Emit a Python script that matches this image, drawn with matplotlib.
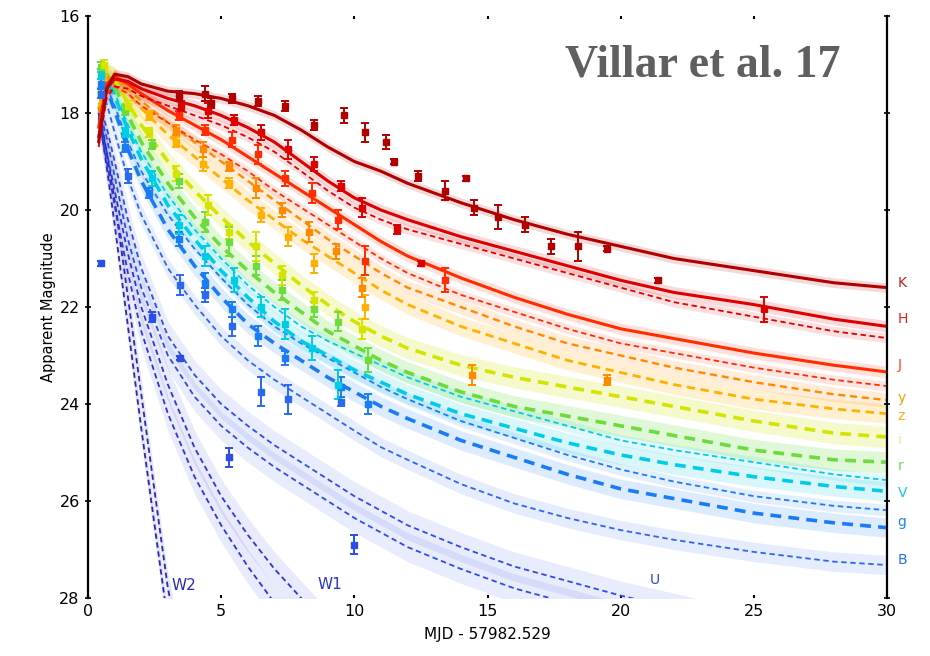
import numpy as np
import matplotlib
matplotlib.use("Agg")
import matplotlib.pyplot as plt

# model grid (days since merger) and model magnitudes
t_grid = [0.4, 0.7, 1.0, 1.5, 2, 3, 4, 5, 6, 7, 8, 9, 10, 11, 12, 14, 16, 18, 20, 22, 25, 28, 30]

mod_K = [18.6, 17.5, 17.2, 17.25, 17.4, 17.55, 17.6, 17.7, 17.85, 18.05, 18.35, 18.7, 19.0, 19.2, 19.45, 19.85, 20.2, 20.5, 20.75, 21.0, 21.25, 21.5, 21.6]
mod_H = [18.5, 17.5, 17.3, 17.35, 17.5, 17.7, 17.85, 18.05, 18.3, 18.6, 19.0, 19.4, 19.75, 20.0, 20.2, 20.55, 20.85, 21.15, 21.45, 21.7, 21.95, 22.25, 22.4]
mod_H2 = [18.7, 17.7, 17.45, 17.5, 17.65, 17.85, 18.05, 18.25, 18.5, 18.8, 19.2, 19.6, 19.95, 20.2, 20.4, 20.7, 21.0, 21.3, 21.6, 21.9, 22.2, 22.5, 22.64]
mod_J = [18.3, 17.4, 17.25, 17.4, 17.6, 17.95, 18.25, 18.55, 18.9, 19.25, 19.6, 19.95, 20.3, 20.65, 20.95, 21.4, 21.8, 22.15, 22.45, 22.65, 22.95, 23.2, 23.34]
mod_J2 = [18.5, 17.6, 17.45, 17.6, 17.85, 18.2, 18.55, 18.85, 19.2, 19.6, 19.95, 20.3, 20.65, 21.0, 21.3, 21.75, 22.1, 22.45, 22.75, 22.95, 23.25, 23.5, 23.63]
mod_y = [18.0, 17.3, 17.25, 17.5, 17.75, 18.2, 18.6, 19.0, 19.4, 19.8, 20.2, 20.6, 20.95, 21.3, 21.6, 22.0, 22.4, 22.75, 23.0, 23.25, 23.55, 23.8, 23.92]
mod_z = [17.9, 17.2, 17.25, 17.6, 17.9, 18.45, 18.9, 19.35, 19.8, 20.2, 20.6, 20.95, 21.3, 21.65, 21.95, 22.4, 22.75, 23.1, 23.35, 23.6, 23.9, 24.1, 24.2]
mod_i = [17.7, 17.15, 17.3, 17.8, 18.25, 19.0, 19.6, 20.15, 20.65, 21.1, 21.55, 21.95, 22.3, 22.6, 22.85, 23.2, 23.45, 23.65, 23.85, 24.05, 24.35, 24.6, 24.68]
mod_r = [17.6, 17.2, 17.45, 18.05, 18.6, 19.45, 20.15, 20.75, 21.25, 21.7, 22.1, 22.5, 22.8, 23.1, 23.35, 23.75, 24.05, 24.25, 24.45, 24.65, 24.95, 25.15, 25.2]
mod_V = [17.5, 17.3, 17.65, 18.35, 18.95, 19.9, 20.6, 21.25, 21.8, 22.3, 22.7, 23.0, 23.3, 23.55, 23.8, 24.2, 24.5, 24.8, 25.05, 25.25, 25.5, 25.7, 25.8]
mod_V2 = [17.45, 17.25, 17.6, 18.25, 18.8, 19.7, 20.4, 21.0, 21.55, 22.0, 22.4, 22.7, 22.95, 23.2, 23.45, 23.85, 24.15, 24.45, 24.75, 24.95, 25.2, 25.45, 25.57]
mod_g = [17.5, 17.5, 17.95, 18.75, 19.4, 20.4, 21.15, 21.8, 22.35, 22.75, 23.1, 23.45, 23.75, 24.05, 24.3, 24.75, 25.1, 25.45, 25.75, 25.95, 26.25, 26.45, 26.55]
mod_g2 = [17.5, 17.45, 17.85, 18.6, 19.2, 20.1, 20.8, 21.4, 21.95, 22.4, 22.75, 23.05, 23.35, 23.65, 23.9, 24.35, 24.7, 25.05, 25.35, 25.6, 25.9, 26.1, 26.19]
mod_B = [17.6, 17.8, 18.4, 19.35, 20.1, 21.2, 21.95, 22.6, 23.1, 23.5, 23.85, 24.2, 24.55, 24.89, 25.15, 25.65, 26.05, 26.35, 26.6, 26.8, 27.05, 27.25, 27.32]
mod_U = [17.8, 18.3, 19.0, 20.2, 21.2, 22.6, 23.4, 24.0, 24.45, 24.85, 25.2, 25.55, 25.9, 26.2, 26.5, 26.95, 27.35, 27.65, 27.95, 28.2, 28.6, 28.9, 29.1]
mod_U2 = [17.9, 18.5, 19.3, 20.6, 21.6, 23.0, 23.85, 24.45, 24.9, 25.3, 25.65, 26.0, 26.35, 26.65, 26.95, 27.4, 27.8, 28.1, 28.4, 28.6, 29.0, 29.3, 29.5]
mod_W1 = [18.0, 18.8, 19.6, 20.9, 22.0, 23.6, 24.9, 25.9, 26.7, 27.4, 28.0, 28.6]
mod_W1b = [18.1, 19.0, 19.9, 21.3, 22.5, 24.2, 25.5, 26.5, 27.35, 28.1, 28.7]
mod_W2 = [17.9, 18.8, 19.8, 21.8, 23.8, 27.8, 30.5]
mod_W2b = [18.0, 19.1, 20.3, 22.4, 24.5, 28.5]

# observed photometry (day, mag, err)
obs_K_t = [3.4, 4.4, 4.6, 5.4, 6.4, 7.4, 8.5, 9.6, 10.4, 11.2, 11.5, 12.4, 13.4, 14.2, 14.5, 15.4, 16.4, 17.4, 18.4, 19.5, 21.4]
obs_K_m = [17.65, 17.6, 17.8, 17.7, 17.75, 17.85, 18.25, 18.05, 18.4, 18.6, 19.0, 19.3, 19.6, 19.35, 19.95, 20.15, 20.3, 20.75, 20.75, 20.8, 21.45]
obs_K_e = [0.1, 0.15, 0.1, 0.1, 0.1, 0.1, 0.1, 0.15, 0.2, 0.15, 0.05, 0.1, 0.2, 0.05, 0.15, 0.25, 0.15, 0.15, 0.3, 0.05, 0.05]
obs_H_t = [3.5, 4.5, 5.5, 6.5, 7.5, 8.5, 9.5, 10.3, 11.6, 12.5, 25.4]
obs_H_m = [17.85, 17.95, 18.15, 18.4, 18.75, 19.05, 19.5, 19.95, 20.4, 21.1, 22.05]
obs_H_e = [0.1, 0.15, 0.1, 0.15, 0.2, 0.15, 0.1, 0.2, 0.1, 0.05, 0.25]
obs_J_t = [3.4, 4.4, 5.4, 6.4, 7.4, 8.4, 9.4, 10.4, 13.4]
obs_J_m = [18.05, 18.35, 18.55, 18.85, 19.35, 19.65, 20.2, 21.05, 21.45]
obs_J_e = [0.1, 0.1, 0.15, 0.2, 0.15, 0.2, 0.2, 0.3, 0.25]
obs_y_t = [3.3, 4.3, 5.3, 6.3, 7.3, 8.3, 9.3, 10.3, 14.4, 19.5]
obs_y_m = [18.35, 18.75, 19.1, 19.55, 20.0, 20.45, 20.85, 21.6, 23.4, 23.5]
obs_y_e = [0.1, 0.15, 0.1, 0.2, 0.15, 0.2, 0.15, 0.2, 0.2, 0.1]
obs_z_t = [2.3, 3.3, 4.3, 5.3, 6.5, 7.5, 8.5, 10.4]
obs_z_m = [18.05, 18.6, 19.05, 19.45, 20.1, 20.55, 21.1, 22.0]
obs_z_e = [0.1, 0.1, 0.15, 0.1, 0.15, 0.2, 0.2, 0.25]
obs_i_t = [0.6, 1.5, 2.3, 3.3, 4.5, 5.3, 6.3, 7.3, 8.5, 10.3]
obs_i_m = [17.0, 17.85, 18.4, 19.25, 19.9, 20.45, 20.75, 21.35, 21.85, 22.45]
obs_i_e = [0.1, 0.1, 0.1, 0.15, 0.2, 0.15, 0.3, 0.2, 0.15, 0.2]
obs_r_t = [0.5, 1.4, 2.4, 3.4, 4.4, 5.3, 6.3, 7.3, 8.5, 9.4, 10.5]
obs_r_m = [17.05, 17.95, 18.65, 19.4, 20.25, 20.65, 21.15, 21.65, 22.05, 22.3, 23.1]
obs_r_e = [0.1, 0.1, 0.1, 0.15, 0.2, 0.3, 0.2, 0.2, 0.15, 0.2, 0.25]
obs_V_t = [0.5, 1.4, 2.4, 3.4, 4.4, 5.5, 6.5, 7.4, 8.4, 9.4]
obs_V_m = [17.2, 18.4, 19.35, 20.3, 20.95, 21.45, 22.0, 22.35, 22.85, 23.6]
obs_V_e = [0.1, 0.1, 0.15, 0.2, 0.2, 0.25, 0.2, 0.3, 0.25, 0.3]
obs_g_t = [0.5, 1.4, 2.3, 3.4, 4.4, 5.4, 6.4, 7.4, 9.5, 10.5]
obs_g_m = [17.4, 18.7, 19.65, 20.6, 21.5, 22.05, 22.6, 23.05, 23.65, 24.0]
obs_g_e = [0.1, 0.1, 0.1, 0.15, 0.2, 0.15, 0.2, 0.15, 0.2, 0.2]
obs_B_t = [0.5, 1.5, 3.45, 4.4, 5.4, 6.5, 7.5, 9.5]
obs_B_m = [17.6, 19.3, 21.55, 21.75, 22.4, 23.75, 23.9, 23.95]
obs_B_e = [0.1, 0.15, 0.2, 0.15, 0.2, 0.3, 0.3, 0.1]
obs_U_t = [0.5, 2.4, 3.45, 5.3, 10.0]
obs_U_m = [21.1, 22.2, 23.05, 25.1, 26.9]
obs_U_e = [0.05, 0.1, 0.05, 0.2, 0.2]

band_names = ["K", "H", "J", "y", "z", "i", "r", "V", "g", "B", "U", "W1", "W2"]
band_colors = ["#b00000", "#dc0000", "#ff2c00", "#ff8a00", "#ffb000", "#d4e400",
               "#6cdc3c", "#00cce6", "#1a7cf4", "#2a68f0", "#2a4ee6", "#2a36d8", "#2a28b8"]
label_colors = ["#c02020", "#e02020", "#ff4020", "#f0a000", "#f8b020", "#e4f0a0",
                "#70d860", "#10c8e8", "#2080f0", "#2a70f0", "#2a40e0", "#2a34d0", "#2a2ab8"]
label_mags = [21.5, 22.25, 23.2, 23.88, 24.25, 24.74, 25.28, 25.84, 26.43, 27.22]

fig = plt.figure(figsize=(9.3, 6.56), dpi=100)
ax = fig.add_axes([88 / 930, 1 - 598 / 656, 799 / 930, 582 / 656])

t = np.array(t_grid)

def model(arr, color, ls="--", lw=1.3, spread=0.15, alpha=0.15):
    m = np.array(arr)
    tt = t[:len(m)]
    ax.fill_between(tt, m - spread, m + spread, color=color, alpha=alpha, lw=0)
    if ls == "-":
        ax.plot(tt, m, color=color, lw=lw, solid_capstyle="round", solid_joinstyle="round")
    else:
        ax.plot(tt, m, color=color, lw=lw, ls=(0, (3, 2)))

c = dict(zip(band_names, band_colors))

model(mod_W2b, c["W2"], spread=0.3, alpha=0.12)
model(mod_W2, c["W2"], spread=0.3, alpha=0.12)
model(mod_W1b, c["W1"], spread=0.35, alpha=0.1)
model(mod_W1, c["W1"], spread=0.35, alpha=0.1)
model(mod_U2, c["U"], spread=0.3, alpha=0.1)
model(mod_U, c["U"], spread=0.3, alpha=0.1)
model(mod_B, c["B"], spread=0.2, alpha=0.12)
model(mod_g2, c["g"], spread=0.12, alpha=0.12)
model(mod_g, c["g"], lw=2.6, spread=0.2, alpha=0.15)
model(mod_V2, c["V"], spread=0.12, alpha=0.12)
model(mod_V, c["V"], lw=2.6, spread=0.2, alpha=0.15)
model(mod_r, c["r"], lw=2.6, spread=0.22, alpha=0.2)
model(mod_i, c["i"], lw=2.6, spread=0.22, alpha=0.2)
model(mod_z, c["z"], lw=2.0, spread=0.2, alpha=0.18)
model(mod_y, c["y"], lw=1.7, spread=0.15, alpha=0.15)
model(mod_J2, c["J"], spread=0.1, alpha=0.12)
model(mod_J, c["J"], ls="-", lw=2.2, spread=0.12, alpha=0.15)
model(mod_H2, c["H"], spread=0.1, alpha=0.12)
model(mod_H, c["H"], ls="-", lw=2.2, spread=0.12, alpha=0.15)
model(mod_K, c["K"], ls="-", lw=2.2, spread=0.1, alpha=0.15)

observations = [
    ("U", obs_U_t, obs_U_m, obs_U_e), ("B", obs_B_t, obs_B_m, obs_B_e),
    ("g", obs_g_t, obs_g_m, obs_g_e), ("V", obs_V_t, obs_V_m, obs_V_e),
    ("r", obs_r_t, obs_r_m, obs_r_e), ("i", obs_i_t, obs_i_m, obs_i_e),
    ("z", obs_z_t, obs_z_m, obs_z_e), ("y", obs_y_t, obs_y_m, obs_y_e),
    ("J", obs_J_t, obs_J_m, obs_J_e), ("H", obs_H_t, obs_H_m, obs_H_e),
    ("K", obs_K_t, obs_K_m, obs_K_e),
]
for b, ot, om, oe in observations:
    ax.errorbar(ot, om, yerr=oe, fmt="s", color=c[b], ms=4.5, mec=c[b],
                elinewidth=1.4, capsize=3, capthick=1.4)

# band labels along the right edge
for b, lc, lm in zip(band_names[:10], label_colors[:10], label_mags):
    ax.text(30.4, lm, b, color=lc, fontsize=10, va="center", ha="left", clip_on=False)
ax.text(21.1, 27.62, "U", color=label_colors[10], fontsize=10, va="center")
ax.text(8.6, 27.72, "W1", color=label_colors[11], fontsize=11, va="center")
ax.text(3.15, 27.75, "W2", color=label_colors[12], fontsize=11, va="center")

ax.set_xlim(0, 30)
ax.set_ylim(28, 16)
ax.set_xticks([0, 5, 10, 15, 20, 25, 30])
ax.set_yticks([16, 18, 20, 22, 24, 26, 28])
ax.spines["top"].set_visible(False)
ax.spines["bottom"].set_visible(False)
ax.spines["left"].set_linewidth(1.6)
ax.spines["right"].set_linewidth(1.6)
ax.tick_params(axis="x", which="both", top=True, bottom=True, direction="in",
               length=2, width=1.5, labelsize=11.5, pad=4)
ax.tick_params(axis="y", which="both", left=True, right=True, direction="inout",
               length=5, width=1.2, labelsize=11.5)
ax.set_xlabel("MJD - 57982.529", fontsize=11, labelpad=6)
ax.set_ylabel("Apparent Magnitude", fontsize=10.5, labelpad=2)

fig.text(0.6075, 0.9, "Villar et al. 17", fontsize=33, fontweight="bold",
         family="Liberation Serif", color="#5f5f5f", ha="left", va="center")

fig.savefig("out.png", dpi=100)
